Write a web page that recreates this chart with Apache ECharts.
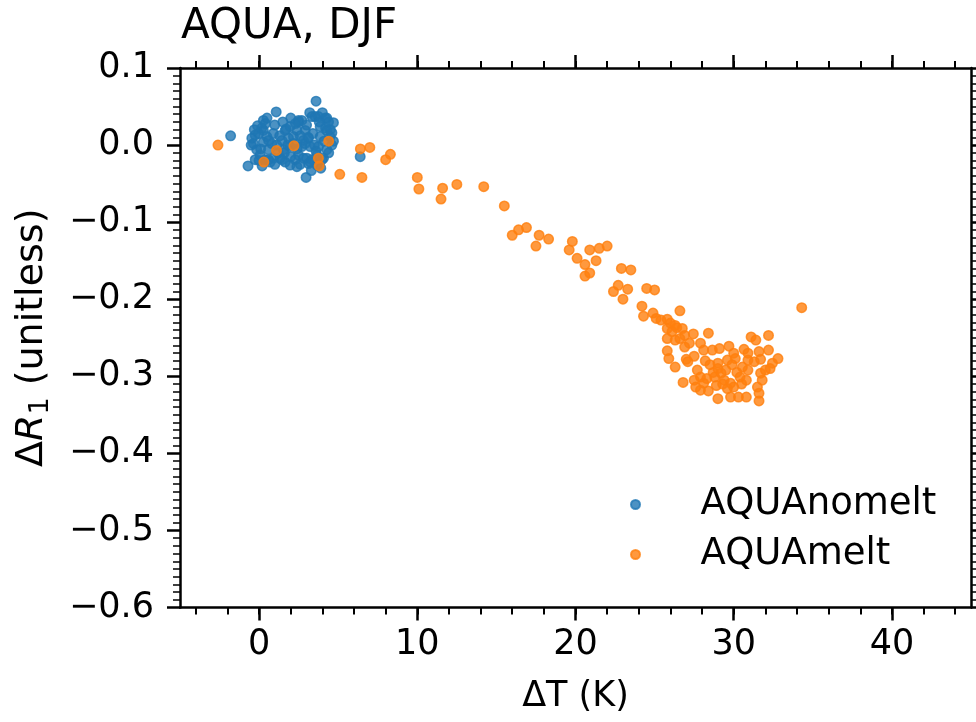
<!DOCTYPE html>
<html>
<head>
<meta charset="utf-8">
<script src="https://cdn.jsdelivr.net/npm/echarts@6/dist/echarts.min.js"></script>
<style>
  html, body { margin: 0; padding: 0; background: #fff; }
  #chart { width: 976px; height: 722px; }
</style>
</head>
<body>
<div id="chart"></div>
<script>
// ΔT (K) vs ΔR1 for the two AQUA experiments, DJF
const aquaNomelt = [
  [-1.8, 0.012], [-0.7, -0.027], [0.19, -0.027], [0.27, 0.032], [1.08, 0.043],
  [0.99, 0.026], [3.6, 0.057], [2.97, -0.042], [6.39, -0.015], [4.7, 0.029],
  [4.6, 0.016], [-0.25, 0.013], [-0.04, 0.015], [-0.36, 0.002], [-0.15, -0.006],
  [0.06, -0.013], [0.38, -0.019], [0.7, -0.022], [0.91, -0.017], [0.59, -0.006],
  [0.27, 0.004], [0.17, 0.022], [0.49, 0.011], [0.8, 0.002], [1.12, 0.0],
  [1.44, 0.006], [1.65, 0.019], [1.96, 0.024], [1.86, 0.009], [1.54, -0.006],
  [1.33, -0.017], [1.65, -0.022], [1.96, -0.026], [2.28, -0.019], [2.49, -0.013],
  [2.7, -0.002], [2.8, 0.006], [2.39, 0.019], [2.49, 0.030], [2.7, 0.032],
  [2.91, 0.019], [3.12, 0.009], [3.23, -0.002], [3.02, -0.017], [3.34, -0.019],
  [3.65, -0.013], [3.75, -0.002], [3.86, 0.011], [3.86, 0.024], [3.54, 0.037],
  [3.75, 0.037], [4.18, 0.035], [4.39, 0.030], [4.28, 0.019], [4.49, 0.011],
  [4.6, 0.0], [4.28, -0.006], [3.97, -0.019], [3.65, -0.026], [3.12, -0.024],
  [1.96, -0.002], [2.17, 0.011], [1.71, 0.021], [2.49, 0.032], [3.34, 0.037],
  [4.28, 0.035], [-0.46, 0.009], [0.27, 0.019], [-0.25, -0.019], [0.59, -0.019],
  [2.39, -0.028], [3.23, -0.022], [4.07, -0.017], [1.44, -0.019], [2.8, -0.017],
  [-0.5, 0.0], [-0.1, 0.025], [0.1, -0.005], [0.4, 0.028], [0.6, 0.006],
  [0.9, 0.015], [1.2, -0.01], [1.3, 0.012], [1.5, 0.03], [1.8, 0.0],
  [2.0, -0.015], [2.2, 0.002], [2.3, 0.028], [2.6, 0.012], [2.6, -0.025],
  [2.9, 0.002], [3.0, 0.026], [3.2, 0.042], [3.4, 0.015], [3.5, 0.0],
  [3.6, -0.008], [3.8, 0.03], [3.9, -0.03], [4.1, 0.005], [4.2, 0.022],
  [4.4, -0.01], [4.0, 0.042], [3.3, -0.033], [2.0, 0.035], [1.0, -0.025],
  [0.0, -0.02], [-0.3, 0.02], [0.5, 0.035], [1.6, -0.01], [2.4, -0.005],
  [3.1, 0.01], [4.5, 0.02], [4.7, 0.005]
];

const aquaMelt = [
  [-2.6, 0.0], [0.3, -0.022], [1.1, -0.007], [2.2, -0.001], [3.75, -0.017],
  [3.8, -0.027], [4.4, 0.005], [6.4, -0.005], [7.0, -0.003], [5.1, -0.038],
  [6.5, -0.042], [8.0, -0.019], [8.3, -0.012], [10.0, -0.042], [10.1, -0.057],
  [11.6, -0.056], [11.5, -0.070], [12.5, -0.051], [14.2, -0.054], [15.5, -0.079],
  [16.0, -0.117], [16.4, -0.110], [16.9, -0.107], [17.7, -0.117], [17.5, -0.131],
  [18.3, -0.122], [19.8, -0.125], [19.6, -0.136], [20.9, -0.136], [21.5, -0.134],
  [22.0, -0.131], [20.1, -0.147], [20.6, -0.155], [21.3, -0.150], [22.9, -0.160],
  [20.6, -0.170], [20.9, -0.166], [23.5, -0.162], [22.7, -0.182], [22.4, -0.190],
  [23.3, -0.187], [23.0, -0.200], [24.5, -0.186], [25.0, -0.188], [24.2, -0.209],
  [24.3, -0.222], [24.9, -0.218], [25.1, -0.225], [26.6, -0.215], [25.4, -0.227],
  [25.8, -0.226], [26.0, -0.231], [26.3, -0.234], [26.4, -0.237], [26.75, -0.238],
  [25.8, -0.238], [26.1, -0.242], [26.9, -0.247], [25.8, -0.251], [26.3, -0.253],
  [26.6, -0.251], [27.45, -0.245], [28.4, -0.244], [27.2, -0.257], [27.9, -0.257],
  [26.9, -0.262], [25.8, -0.267], [25.9, -0.277], [26.3, -0.288], [27.0, -0.278],
  [27.1, -0.281], [27.5, -0.274], [28.1, -0.266], [28.65, -0.266], [29.1, -0.264],
  [29.7, -0.261], [30.0, -0.270], [30.65, -0.265], [31.1, -0.249], [31.4, -0.253],
  [32.2, -0.247], [31.6, -0.268], [32.2, -0.266], [32.8, -0.277], [32.45, -0.283],
  [34.3, -0.211], [27.7, -0.292], [27.9, -0.301], [28.3, -0.303], [28.8, -0.301],
  [29.2, -0.296], [29.5, -0.292], [29.0, -0.290], [27.9, -0.318], [28.4, -0.319],
  [29.0, -0.329], [29.6, -0.316], [30.0, -0.314], [30.3, -0.327], [30.8, -0.327],
  [29.8, -0.327], [29.4, -0.305], [29.8, -0.309], [30.4, -0.301], [30.8, -0.305],
  [30.9, -0.292], [30.55, -0.288], [31.5, -0.314], [31.6, -0.322], [31.6, -0.332],
  [31.8, -0.305], [31.7, -0.296], [32.0, -0.292], [32.3, -0.290], [29.0, -0.283],
  [29.6, -0.279], [30.1, -0.277], [30.9, -0.279], [31.3, -0.281], [31.7, -0.278],
  [30.9, -0.270], [27.5, -0.305], [28.1, -0.309], [26.8, -0.308], [27.6, -0.314],
  [28.5, -0.285], [29.3, -0.310], [28.7, -0.295], [30.2, -0.295], [29.9, -0.285],
  [28.2, -0.280], [30.5, -0.310], [28.9, -0.312]
];

const seriesNames = ['AQUAnomelt', 'AQUAmelt'];
const seriesColors = ['#1f77b4', '#ff7f0e'];

// axis ranges
const xRange = [-5, 45];
const xMajor = [0, 40, 10];   // labelled ticks: start, end, step
const xMinor = [-4, 44, 2];   // minor ticks: start, end, step
const yRange = [-0.6, 0.1];

const FONT = 'DejaVu Sans';
const BLACK = '#000';
const TICK_FONT = 35;

// plot box in pixels
const box = { left: 180, top: 68, width: 791, height: 539.5 };
const pxPerX = box.width / (xRange[1] - xRange[0]);

function subGrid(lo, hi) {
  return {
    left: box.left + (lo - xRange[0]) * pxPerX,
    top: box.top,
    width: (hi - lo) * pxPerX,
    height: box.height
  };
}

const fmtY = v => (v < 0 ? '\u2212' : '') + Math.abs(v).toFixed(1);

const chart = echarts.init(document.getElementById('chart'), null, { renderer: 'canvas' });

const option = {
  animation: false,
  backgroundColor: '#fff',
  title: {
    text: 'AQUA, DJF',
    left: 176,
    top: 1,
    textStyle: { fontFamily: FONT, fontSize: 42, fontWeight: 'normal', color: BLACK }
  },
  legend: {
    orient: 'vertical',
    left: 625,
    top: 481,
    itemWidth: 60,
    itemHeight: 9,
    itemGap: 13,
    icon: 'circle',
    data: seriesNames,
    textStyle: { fontFamily: FONT, fontSize: 37, color: BLACK, padding: [0, 0, 0, 30] }
  },
  grid: [
    { left: box.left, top: box.top, width: box.width, height: box.height },
    subGrid(xMajor[0], xMajor[1]),
    subGrid(xMinor[0], xMinor[1])
  ],
  xAxis: [
    // frame lines of the data grid
    { type: 'value', gridIndex: 0, position: 'bottom', min: xRange[0], max: xRange[1],
      axisLine: { show: true, onZero: false, lineStyle: { color: BLACK, width: 2.5 } },
      axisTick: { show: false }, axisLabel: { show: false }, splitLine: { show: false } },
    { type: 'value', gridIndex: 0, position: 'top', min: xRange[0], max: xRange[1],
      axisLine: { show: true, onZero: false, lineStyle: { color: BLACK, width: 2.5 } },
      axisTick: { show: false }, axisLabel: { show: false }, splitLine: { show: false } },
    // labelled major ticks
    { type: 'value', gridIndex: 1, position: 'bottom', min: xMajor[0], max: xMajor[1], interval: xMajor[2],
      axisLine: { show: false, onZero: false },
      axisTick: { show: true, length: 13, lineStyle: { color: BLACK, width: 2.5 } },
      axisLabel: { show: true, margin: 20, fontFamily: FONT, fontSize: TICK_FONT, color: BLACK },
      splitLine: { show: false },
      name: '\u0394T (K)', nameLocation: 'middle', nameGap: 72,
      nameTextStyle: { fontFamily: FONT, fontSize: TICK_FONT, color: BLACK } },
    { type: 'value', gridIndex: 1, position: 'top', min: xMajor[0], max: xMajor[1], interval: xMajor[2],
      axisLine: { show: false, onZero: false },
      axisTick: { show: true, length: 13, lineStyle: { color: BLACK, width: 2.5 } },
      axisLabel: { show: false }, splitLine: { show: false } },
    // minor ticks
    { type: 'value', gridIndex: 2, position: 'bottom', min: xMinor[0], max: xMinor[1], interval: xMinor[2],
      axisLine: { show: false, onZero: false },
      axisTick: { show: true, length: 7, lineStyle: { color: BLACK, width: 2 } },
      axisLabel: { show: false }, splitLine: { show: false } },
    { type: 'value', gridIndex: 2, position: 'top', min: xMinor[0], max: xMinor[1], interval: xMinor[2],
      axisLine: { show: false, onZero: false },
      axisTick: { show: true, length: 7, lineStyle: { color: BLACK, width: 2 } },
      axisLabel: { show: false }, splitLine: { show: false } }
  ],
  yAxis: [
    { type: 'value', gridIndex: 0, position: 'left', min: yRange[0], max: yRange[1], interval: 0.1,
      axisLine: { show: true, onZero: false, lineStyle: { color: BLACK, width: 2.5 } },
      axisTick: { show: true, length: 13, lineStyle: { color: BLACK, width: 2.5 } },
      minorTick: { show: true, splitNumber: 10, length: 7, lineStyle: { color: BLACK, width: 1.5 } },
      axisLabel: { show: true, margin: 26, fontFamily: FONT, fontSize: TICK_FONT, color: BLACK, formatter: fmtY },
      splitLine: { show: false },
      name: '{d|\u0394}{r|R}{s|1}{d| (unitless)}',
      nameLocation: 'middle', nameRotate: 90, nameGap: 126,
      nameTextStyle: {
        rich: {
          d: { fontFamily: FONT, fontSize: 38, color: BLACK },
          r: { fontFamily: FONT, fontSize: 38, fontStyle: 'italic', color: BLACK },
          s: { fontFamily: FONT, fontSize: 27, color: BLACK, padding: [16, 0, 0, 0] }
        }
      } },
    { type: 'value', gridIndex: 0, position: 'right', min: yRange[0], max: yRange[1], interval: 0.1,
      axisLine: { show: true, onZero: false, lineStyle: { color: BLACK, width: 2.5 } },
      axisTick: { show: true, length: 13, lineStyle: { color: BLACK, width: 2.5 } },
      minorTick: { show: true, splitNumber: 10, length: 7, lineStyle: { color: BLACK, width: 1.5 } },
      axisLabel: { show: false }, splitLine: { show: false } },
    { type: 'value', gridIndex: 1, show: false, min: 0, max: 1 },
    { type: 'value', gridIndex: 2, show: false, min: 0, max: 1 }
  ],
  series: [
    { name: seriesNames[0], type: 'scatter', xAxisIndex: 0, yAxisIndex: 0,
      data: aquaNomelt, symbolSize: 9.5,
      itemStyle: { color: seriesColors[0], opacity: 0.8, borderColor: seriesColors[0], borderWidth: 1.5 } },
    { name: seriesNames[1], type: 'scatter', xAxisIndex: 0, yAxisIndex: 0,
      data: aquaMelt, symbolSize: 9.5,
      itemStyle: { color: seriesColors[1], opacity: 0.8, borderColor: seriesColors[1], borderWidth: 1.5 } }
  ]
};

chart.setOption(option);
</script>
</body>
</html>
